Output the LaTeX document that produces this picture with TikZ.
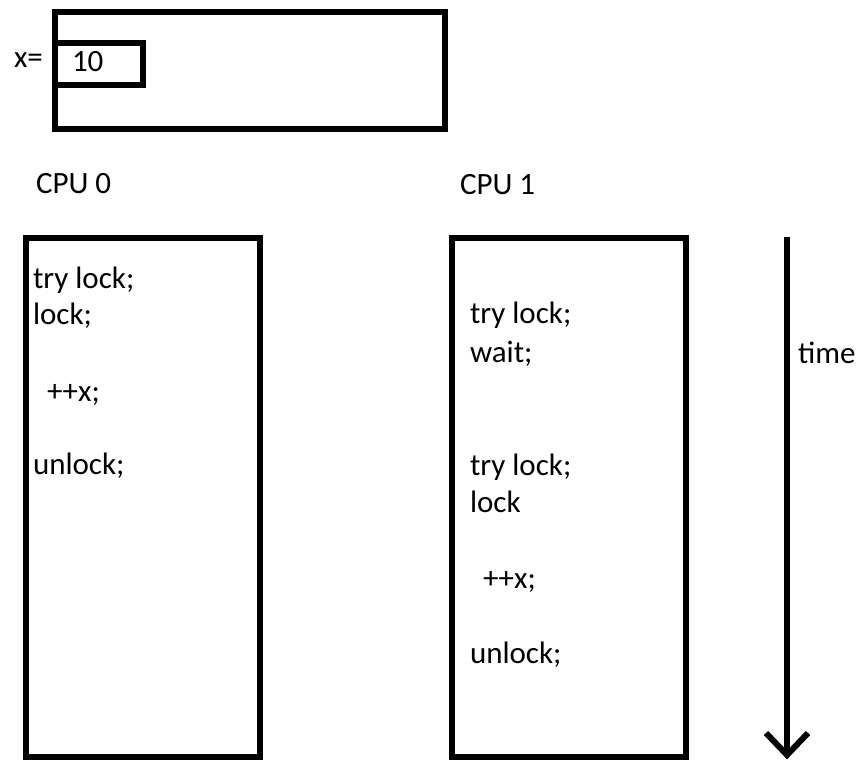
\documentclass[tikz,border=0pt]{standalone}
\usepackage{fontspec}
\setmainfont{Carlito}
\begin{document}
\begin{tikzpicture}[x=0.5pt,y=-0.5pt,
  every node/.style={font=\fontsize{15.5}{18}\selectfont, text=black},
  frame/.style={draw=black, line width=3pt, inner sep=0pt, outer sep=0pt,
                anchor=north west, rectangle},
  code/.style={anchor=base west, inner sep=0pt, outer sep=0pt},
  timeline/.style={line width=3pt, line cap=butt}]
\useasboundingbox (0,0) rectangle (863,762);

% memory holding the shared variable
\node[frame, minimum width=195pt, minimum height=58.5pt] (mem) at (55,12) {};
\node[frame, minimum width=44pt, minimum height=21pt] (cell) at (55,43) {};
\node[code] (xlabel) at (14,67) {x=};
\node[code] (xval) at (72,71) {10};

% processor headings
\node[code] (cpu0) at (36,193) {CPU 0};
\node[code] (cpu1) at (460,194) {CPU 1};

% per-CPU instruction streams
\node[frame, minimum width=117pt, minimum height=259.75pt] (box0) at (26,237.5) {};
\node[frame, minimum width=117pt, minimum height=259.75pt] (box1) at (451.5,237.5) {};

\node[code] (a1) at (33,288) {try lock;};
\node[code] (a2) at (33,324) {lock;};
\node[code] (a3) at (47,401) {++x;};
\node[code] (a4) at (33,474) {unlock;};

\node[code] (b1) at (470,323) {try lock;};
\node[code] (b2) at (470,362) {wait;};
\node[code] (b3) at (470,475) {try lock;};
\node[code] (b4) at (470,512) {lock};
\node[code] (b5) at (483,588) {++x;};
\node[code] (b6) at (470,663) {unlock;};

% time axis
\coordinate (ttop) at (787,237);
\coordinate (ttip) at (787,755);
\draw[timeline] (ttop) -- (ttip);
\draw[timeline, line join=miter] (ttip) ++(-21,-22) -- (ttip) -- ++(21,-22);
\node[code] (time) at (798,363) {time};
\end{tikzpicture}
\end{document}
